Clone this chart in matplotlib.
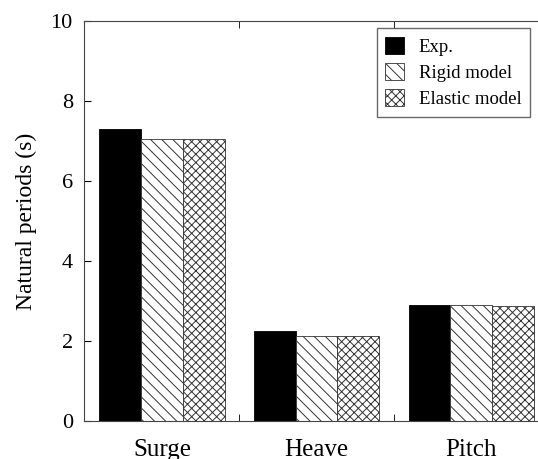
import numpy as np
import matplotlib
matplotlib.use('Agg')
import matplotlib.pyplot as plt

plt.rcParams['font.family'] = 'Liberation Serif'
plt.rcParams['hatch.linewidth'] = 0.7

categorias = ['Surge', 'Heave', 'Pitch']
exp = [7.3, 2.25, 2.9]
rigido = [7.05, 2.13, 2.9]
elastico = [7.05, 2.13, 2.87]

x = np.arange(len(categorias))
largura = 0.27

fig = plt.figure(figsize=(5.38, 4.59), dpi=100)
ax = fig.add_axes([0.156, 0.083, 0.842, 0.871])

ax.bar(x - largura, exp, largura, color='black', edgecolor='black', linewidth=0.6, label='Exp.')
ax.bar(x, rigido, largura, color='white', edgecolor='#333333', hatch='\\\\\\', linewidth=0.6, label='Rigid model')
ax.bar(x + largura, elastico, largura, color='white', edgecolor='#333333', hatch='xxxx', linewidth=0.6, label='Elastic model')

ax.set_xlim(-0.505, 2.425)
ax.set_ylim(0, 10)
ax.set_yticks([0, 2, 4, 6, 8, 10])
ax.set_xticks(x)
ax.set_xticklabels(categorias, fontsize=18)
ax.set_xticks([0.5, 1.5], minor=True)
ax.tick_params(axis='x', which='major', length=0, pad=13)
ax.tick_params(axis='x', which='minor', direction='in', length=5, top=True)
ax.tick_params(axis='y', direction='in', length=5, labelsize=16, pad=8)
ax.set_ylabel('Natural periods (s)', fontsize=17, labelpad=10)

for s in ['left', 'bottom', 'top']:
    ax.spines[s].set_color('#444444')
ax.spines['right'].set_visible(False)

leg = ax.legend(loc='upper right', bbox_to_anchor=(0.985, 0.982), borderaxespad=0, fontsize=13.5,
                handlelength=1.0, handleheight=1.0, frameon=True, fancybox=False, edgecolor='#444444',
                borderpad=0.45, labelspacing=0.4)
leg.get_frame().set_linewidth(1.0)

fig.savefig('out.png', dpi=100)
